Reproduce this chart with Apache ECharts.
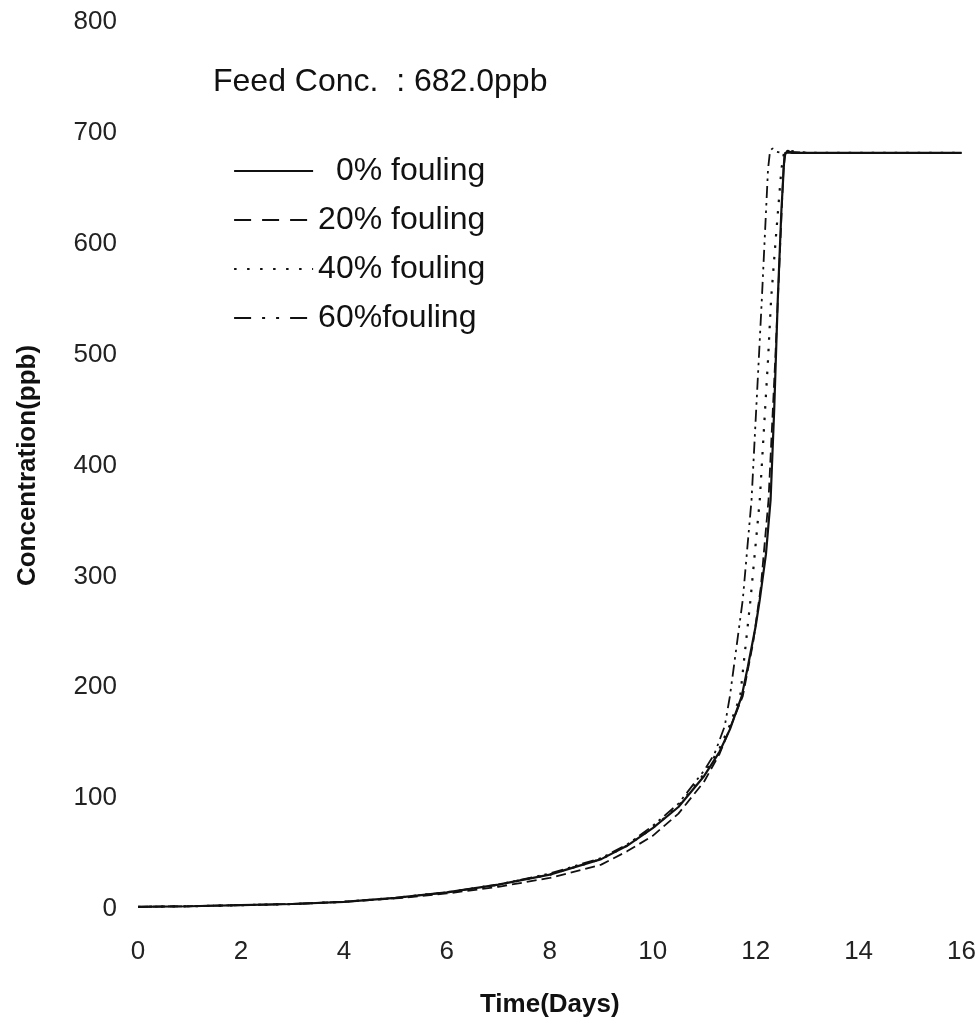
<!DOCTYPE html>
<html>
<head>
<meta charset="utf-8">
<script src="https://cdn.jsdelivr.net/npm/echarts@6/dist/echarts.min.js"></script>
<style>
html,body{margin:0;padding:0;background:#fff;}
#chart{width:979px;height:1023px;}
</style>
</head>
<body>
<div id="chart"></div>
<script>
// ---- data ----
const xTicks = [0, 2, 4, 6, 8, 10, 12, 14, 16];
const yTicks = [0, 100, 200, 300, 400, 500, 600, 700, 800];
const seriesNames = ['0% fouling', '20% fouling', '40% fouling', '60%fouling'];

const t0 = [0,1,2,3,4,5,6,7,8,9,9.5,10,10.5,11,11.3,11.5,11.73,11.85,12.0,12.08,12.2,12.29,12.36,12.43,12.5,12.56,12.62,12.7,13,14,15,16];
const c0 = [2,2.5,3.5,4.5,6.5,10,15,22,31,45,57,73,92,120,142,162,192,219,255,279,320,369,450,550,630,680,684,682,682,682,682,682];

const t20 = [0,1,2,3,4,5,6,7,8,9,9.5,10,10.5,11,11.3,11.5,11.75,11.95,12.1,12.25,12.38,12.46,12.54,12.58,12.65,13,14,15,16];
const c20 = [2,2.5,3.5,4.5,6.5,9.5,14,20,28,40,52,66,86,115,140,163,192,240,290,369,495,580,667,682,683,682,682,682,682];

const t40 = [0,1,2,3,4,5,6,7,8,9,9.5,10,10.5,11,11.3,11.5,11.7,11.9,12.08,12.24,12.3,12.4,12.5,12.55,12.62,13,14,15,16];
const c40 = [2,2.5,3.5,4.5,6.5,10,15,22,31,45,57,73,93,122,145,166,192,279,369,495,550,610,667,682,684,682,682,682,682];

const t60 = [0,1,2,3,4,5,6,7,8,9,9.5,10,10.5,11,11.2,11.4,11.5,11.75,11.92,12.06,12.12,12.24,12.28,12.33,12.4,12.5,13,14,15,16];
const c60 = [2,2.5,3.5,4.5,6.5,10,15,22,32,46,58,75,95,125,140,165,192,279,369,495,550,667,684,686,683,682,682,682,682,682];

const feedText = 'Feed Conc.  : 682.0ppb';

function pairs(t, c) { return t.map((x, i) => [x, c[i]]); }

const chart = echarts.init(document.getElementById('chart'), null, {renderer: 'canvas'});
const ink = '#111';
const font = "'Liberation Sans', Arial, Helvetica, sans-serif";
const hidden = {opacity: 0, color: 'rgba(0,0,0,0)', borderWidth: 0};

const option = {
  backgroundColor: '#fff',
  animation: false,
  grid: {left: 138, right: 17, top: 22, bottom: 113},
  xAxis: {
    type: 'value', min: 0, max: 16, interval: 2,
    axisLine: {show: false}, axisTick: {show: false}, splitLine: {show: false},
    axisLabel: {color: '#222', fontSize: 26, fontFamily: font, margin: 30,
      formatter: v => xTicks.includes(v) ? String(v) : ''},
    name: 'Time(Days)', nameLocation: 'middle', nameGap: 83,
    nameTextStyle: {color: ink, fontSize: 26, fontWeight: 'bold', fontFamily: font}
  },
  yAxis: {
    type: 'value', min: 0, max: 800, interval: 100,
    axisLine: {show: false}, axisTick: {show: false}, splitLine: {show: false},
    axisLabel: {color: '#222', fontSize: 26, fontFamily: font, margin: 21,
      formatter: v => yTicks.includes(v) ? String(v) : ''},
    name: 'Concentration(ppb)', nameLocation: 'middle', nameGap: 97,
    nameTextStyle: {color: ink, fontSize: 26, fontWeight: 'bold', fontFamily: font}
  },
  legend: {
    orient: 'vertical', left: 228, top: 150,
    itemWidth: 79, itemHeight: 30, itemGap: 17,
    itemStyle: hidden,
    textStyle: {color: ink, fontSize: 32, fontFamily: font},
    formatter: n => n === '0% fouling' ? '  ' + n : n,
    data: [
      {name: seriesNames[0], itemStyle: hidden, lineStyle: {type: 'solid', width: 2}},
      {name: seriesNames[1], itemStyle: hidden, lineStyle: {type: [17, 11], width: 2}},
      {name: seriesNames[2], itemStyle: hidden, lineStyle: {type: [2.5, 10.5], width: 2.2}},
      {name: seriesNames[3], itemStyle: hidden, lineStyle: {type: [17, 11, 3, 11, 3, 11], width: 2}}
    ]
  },
  graphic: [{
    type: 'text', left: 213, top: 66,
    style: {text: feedText, fill: ink, fontSize: 32, fontFamily: font}
  }],
  series: [
    {name: seriesNames[0], type: 'line', symbol: 'none', data: pairs(t0, c0), z: 5,
     lineStyle: {color: ink, width: 2.2, type: 'solid'}, itemStyle: {color: ink}},
    {name: seriesNames[1], type: 'line', symbol: 'none', data: pairs(t20, c20),
     lineStyle: {color: ink, width: 1.8, type: [10, 5]}, itemStyle: {color: ink}},
    {name: seriesNames[2], type: 'line', symbol: 'none', data: pairs(t40, c40),
     lineStyle: {color: ink, width: 2.2, type: [2.5, 9]}, itemStyle: {color: ink}},
    {name: seriesNames[3], type: 'line', symbol: 'none', data: pairs(t60, c60),
     lineStyle: {color: ink, width: 1.8, type: [12, 5, 2.5, 5, 2.5, 5]}, itemStyle: {color: ink}}
  ]
};
chart.setOption(option);
</script>
</body>
</html>
